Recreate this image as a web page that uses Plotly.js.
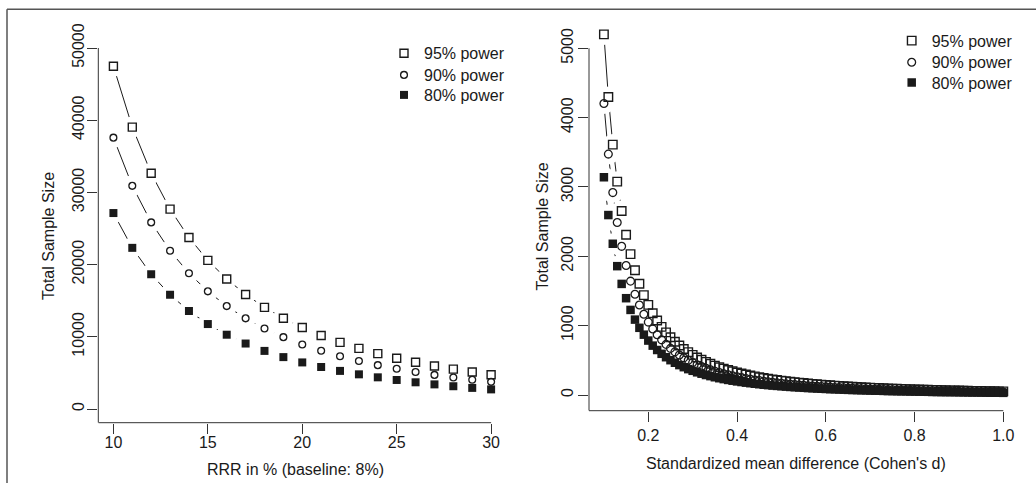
<!DOCTYPE html>
<html>
<head>
<meta charset="utf-8">
<script src="https://cdn.plot.ly/plotly-3.0.1.min.js"></script>
<style>html,body{margin:0;padding:0;background:#fff;}#chart{width:1036px;height:483px;}</style>
</head>
<body>
<div id="chart"></div>
<script>
// ---- Left panel: relative risk reduction (baseline 8%) ----
var rrr = [10,11,12,13,14,15,16,17,18,19,20,21,22,23,24,25,26,27,28,29,30];
var left95 = [47478,39047,32648,27682,23750,20584,18000,15864,14077,12571,11285,10182,9230,8399,7674,7033,6468,5964,5516,5114,4752];
var left90 = [37583,30909,25844,21913,18800,16294,14249,12558,11143,9951,8933,8060,7306,6648,6074,5567,5120,4721,4366,4048,3762];
var left80 = [27140,22320,18663,15824,13576,11766,10289,9068,8047,7186,6451,5820,5276,4801,4386,4020,3697,3409,3153,2923,2716];

// ---- Right panel: Cohen's d ----
var cohenD = [0.10,0.11,0.12,0.13,0.14,0.15,0.16,0.17,0.18,0.19,
              0.20,0.21,0.22,0.23,0.24,0.25,0.26,0.27,0.28,0.29,
              0.30,0.31,0.32,0.33,0.34,0.35,0.36,0.37,0.38,0.39,
              0.40,0.41,0.42,0.43,0.44,0.45,0.46,0.47,0.48,0.49,
              0.50,0.51,0.52,0.53,0.54,0.55,0.56,0.57,0.58,0.59,
              0.60,0.61,0.62,0.63,0.64,0.65,0.66,0.67,0.68,0.69,
              0.70,0.71,0.72,0.73,0.74,0.75,0.76,0.77,0.78,0.79,
              0.80,0.81,0.82,0.83,0.84,0.85,0.86,0.87,0.88,0.89,
              0.90,0.91,0.92,0.93,0.94,0.95,0.96,0.97,0.98,0.99,1.00];
var right95 = [5200,4298,3611,3077,2653,2311,2031,1799,1605,1440,
               1300,1179,1074,983,903,832,769,713,663,618,
               578,541,508,478,450,424,401,380,360,342,
               325,309,295,281,269,257,246,235,226,217,
               208,200,192,185,178,172,166,160,155,149,
               144,140,135,131,127,123,119,116,112,109,
               106,103,100,98,95,92,90,88,85,83,
               81,79,77,76,74,72,70,69,67,66,
               64,63,61,60,59,58,56,55,54,53,52];
var right90 = [4203,3474,2919,2487,2144,1868,1642,1454,1297,1164,
               1051,953,868,795,730,672,622,577,536,500,
               467,437,410,386,364,343,324,307,291,276,
               263,250,238,227,217,208,199,190,182,175,
               168,162,155,150,144,139,134,129,125,121,
               117,113,109,106,103,99,97,94,91,88,
               86,83,81,79,77,75,73,71,69,67,
               66,64,63,61,60,58,57,56,54,53,
               52,51,50,49,48,47,46,45,44,43,42];
var right80 = [3140,2595,2181,1858,1602,1396,1227,1087,969,870,
               785,712,649,594,545,502,465,431,401,373,
               349,327,307,288,272,256,242,229,217,206,
               196,187,178,170,162,155,148,142,136,131,
               126,121,116,112,108,104,100,97,93,90,
               87,84,82,79,77,74,72,70,68,66,
               64,62,61,59,57,56,54,53,52,50,
               49,48,47,46,44,43,42,41,41,40,
               39,38,37,36,36,35,34,33,33,32,31];

var seriesNames = ['95% power','90% power','80% power'];
var leftTicksX = [10,15,20,25,30];
var leftTicksY = [0,10000,20000,30000,40000,50000];
var rightTicksX = [0.2,0.4,0.6,0.8,1.0];
var rightTicksY = [0,1000,2000,3000,4000,5000];

// ---- geometry / style ----
var W = 1036, H = 483;
var ink = '#1a1a1a', axisCol = '#333';
var FONT = 'Liberation Sans, Arial, Helvetica, sans-serif';
var L = {xr:[9.2,31.0], yr:[-1898,52770], xd:[98.3/W, 510/W], yd:[1-422.7/H, 1-28/H]};
var R = {xr:[0.0664,1.0489], yr:[-226.4,5480], xd:[589/W, 1025/W], yd:[1-410.7/H, 1-15/H]};

function markerFor(i, right){
  if(i===0) return {symbol:'square-open', size: right?8.5:8, color:ink, line:{width:1.4, color:ink}};
  if(i===1) return {symbol:'circle-open', size: right?7.8:6.8, color:ink, line:{width:1.3, color:ink}};
  return {symbol:'square', size: right?8.5:8, color:ink, line:{width:0}};
}

var leftLegends = ['legend','legend3','legend4'];
var rightLegends = ['legend2','legend5','legend6'];

var traces = [];
var panels = [
  {x:rrr, ys:[left95,left90,left80], xa:'x', ya:'y', legs:leftLegends, right:false},
  {x:cohenD, ys:[right95,right90,right80], xa:'x2', ya:'y2', legs:rightLegends, right:true}
];
// connecting lines
panels.forEach(function(p){
  p.ys.forEach(function(y){
    traces.push({x:p.x, y:y, xaxis:p.xa, yaxis:p.ya, mode:'lines', line:{color:ink, width:1},
      showlegend:false, hoverinfo:'skip'});
  });
});
// white gaps around points (R type="b" look)
panels.forEach(function(p){
  p.ys.forEach(function(y){
    traces.push({x:p.x, y:y, xaxis:p.xa, yaxis:p.ya, mode:'markers',
      marker:{symbol:'circle', size:21, color:'#ffffff', line:{width:0}},
      showlegend:false, hoverinfo:'skip'});
  });
});
// points
panels.forEach(function(p){
  p.ys.forEach(function(y, i){
    traces.push({x:p.x, y:y, xaxis:p.xa, yaxis:p.ya, mode:'markers', name:seriesNames[i],
      marker:markerFor(i, p.right), cliponaxis:false, legend:p.legs[i], showlegend:true});
  });
});

function axisBase(){
  return {showgrid:false, zeroline:false, showline:false, ticks:'outside', ticklen:10,
    tickwidth:1, tickcolor:axisCol, tickfont:{family:FONT, size:16, color:ink}};
}
var xaxis = Object.assign(axisBase(), {domain:L.xd, range:L.xr, anchor:'y', tickvals:leftTicksX, ticktext:leftTicksX.map(String), ticklabelstandoff:-5});
var yaxis = Object.assign(axisBase(), {domain:L.yd, range:L.yr, anchor:'x', tickvals:leftTicksY, ticktext:leftTicksY.map(String), tickangle:-90, ticklabelstandoff:-3});
var xaxis2 = Object.assign(axisBase(), {domain:R.xd, range:R.xr, anchor:'y2', tickvals:rightTicksX, ticktext:rightTicksX.map(function(v){return v.toFixed(1);}), ticklabelstandoff:0});
var yaxis2 = Object.assign(axisBase(), {domain:R.yd, range:R.yr, anchor:'x2', tickvals:rightTicksY, ticktext:rightTicksY.map(String), tickangle:-90, ticklabelstandoff:-1});

var shapes = [
  {type:'line', xref:'x domain', yref:'y', x0:0, x1:0, y0:L.yr[0], y1:leftTicksY[leftTicksY.length-1], line:{color:axisCol, width:1}},
  {type:'line', xref:'x', yref:'y domain', x0:L.xr[0], x1:leftTicksX[leftTicksX.length-1], y0:0, y1:0, line:{color:axisCol, width:1}},
  {type:'line', xref:'x2 domain', yref:'y2', x0:0, x1:0, y0:R.yr[0], y1:rightTicksY[rightTicksY.length-1], line:{color:axisCol, width:1}},
  {type:'line', xref:'x2', yref:'y2 domain', x0:R.xr[0], x1:rightTicksX[rightTicksX.length-1], y0:0, y1:0, line:{color:axisCol, width:1}},
  {type:'line', xref:'paper', yref:'paper', x0:7/W, x1:1, y0:1-9.3/H, y1:1-9.3/H, line:{color:'#555', width:1.5}},
  {type:'line', xref:'paper', yref:'paper', x0:7/W, x1:7/W, y0:0, y1:1-9.3/H, line:{color:'#555', width:1.5}}
];

var tf = {family:FONT, size:16, color:ink};
var annotations = [
  {text:'RRR in % (baseline: 8%)', xref:'paper', yref:'paper', x:295/W, y:1-469/H, showarrow:false, font:tf, xanchor:'center', yanchor:'middle'},
  {text:'Total Sample Size', xref:'paper', yref:'paper', x:48/W, y:1-236/H, showarrow:false, font:tf, textangle:-90, xanchor:'center', yanchor:'middle'},
  {text:'Standardized mean difference (Cohen\'s d)', xref:'paper', yref:'paper', x:796/W, y:1-463/H, showarrow:false, font:tf, xanchor:'center', yanchor:'middle'},
  {text:'Total Sample Size', xref:'paper', yref:'paper', x:542.7/W, y:1-226.7/H, showarrow:false, font:tf, textangle:-90, xanchor:'center', yanchor:'middle'}
];

function leg(symX, rowY){
  return {x:(symX-19)/W, y:1-(rowY-17)/H, xanchor:'left', yanchor:'top', bgcolor:'rgba(0,0,0,0)', borderwidth:0, font:tf};
}
var leftRows = [53.3, 75, 95];
var rightRows = [40.7, 62.3, 82.7];

var layout = {
  width:W, height:H, margin:{l:0,r:0,t:0,b:0}, paper_bgcolor:'#fff', plot_bgcolor:'rgba(0,0,0,0)',
  font:{family:FONT, size:16, color:ink},
  xaxis:xaxis, yaxis:yaxis, xaxis2:xaxis2, yaxis2:yaxis2,
  shapes:shapes, annotations:annotations,
  showlegend:true
};
leftLegends.forEach(function(k, i){ layout[k] = leg(403, leftRows[i]); });
rightLegends.forEach(function(k, i){ layout[k] = leg(910.7, rightRows[i]); });

Plotly.newPlot('chart', traces, layout, {displayModeBar:false, staticPlot:true});
</script>
</body>
</html>
